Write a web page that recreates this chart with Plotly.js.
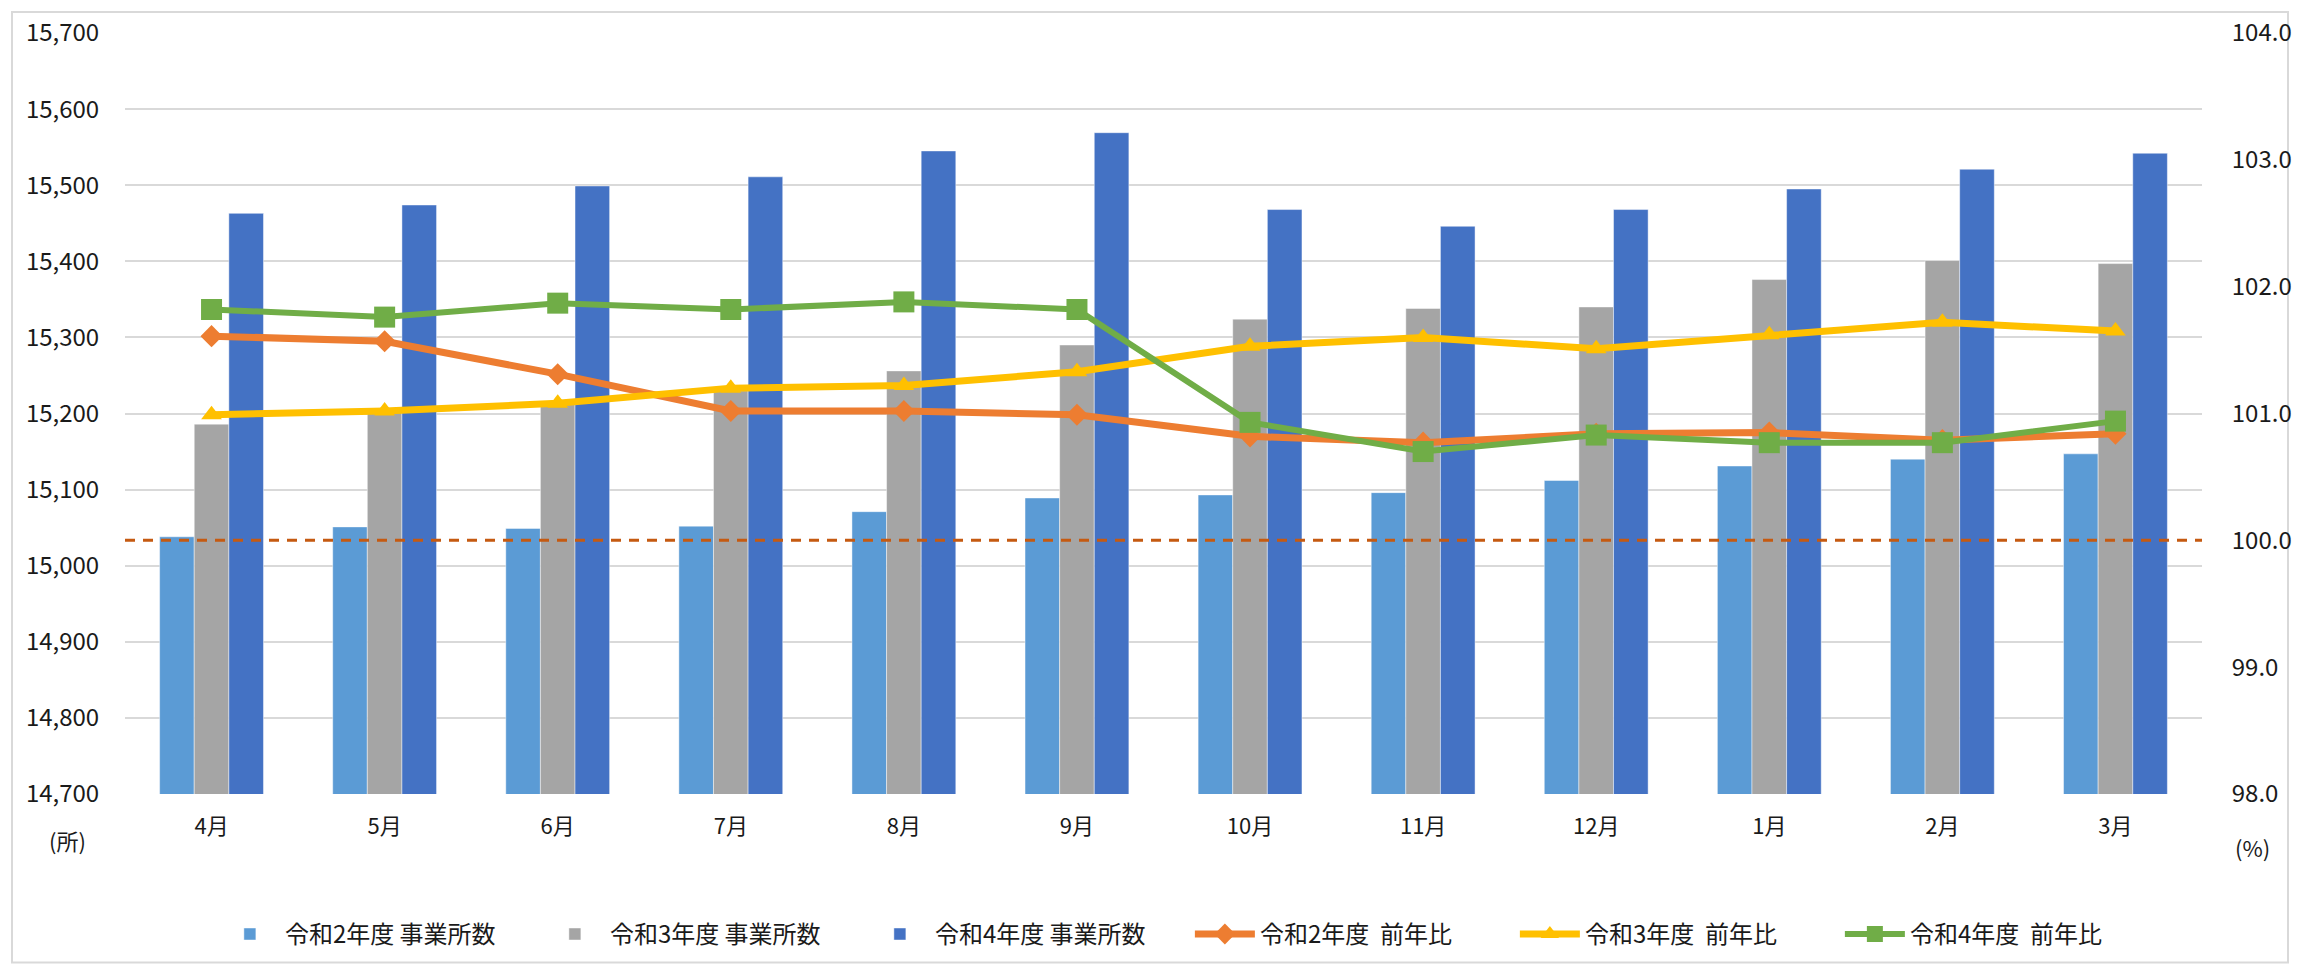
<!DOCTYPE html>
<html>
<head>
<meta charset="utf-8">
<script src="https://cdn.plot.ly/plotly-3.0.1.min.js"></script>
<style>
html,body{margin:0;padding:0;background:#fff;}
#chart{width:2300px;height:965px;}
</style>
</head>
<body>
<div id="chart"></div>
<script>
const months = ['4月','5月','6月','7月','8月','9月','10月','11月','12月','1月','2月','3月'];
const countR2 = [15038, 15051, 15049, 15052, 15071, 15089, 15093, 15096, 15112, 15131, 15140, 15147];
const countR3 = [15186, 15204, 15212, 15230, 15256, 15290, 15324, 15338, 15340, 15376, 15401, 15397];
const countR4 = [15463, 15474, 15499, 15511, 15545, 15569, 15468, 15446, 15468, 15495, 15521, 15542];
const ratioR2 = [101.61, 101.57, 101.31, 101.02, 101.02, 100.99, 100.82, 100.77, 100.84, 100.85, 100.79, 100.84];
const ratioR3 = [100.99, 101.02, 101.08, 101.20, 101.22, 101.33, 101.53, 101.60, 101.51, 101.62, 101.72, 101.65];
const ratioR4 = [101.82, 101.76, 101.87, 101.82, 101.88, 101.82, 100.93, 100.70, 100.83, 100.77, 100.77, 100.94];
const names = ['令和2年度 事業所数','令和3年度 事業所数','令和4年度 事業所数','令和2年度  前年比','令和3年度  前年比','令和4年度  前年比'];
const baseline = 100;

const FONT = '"Noto Sans CJK JP", "Noto Sans", sans-serif';
const TXT = '#1a1a1a';

const barLine = {color:'rgba(255,255,255,0.45)', width:1};
const traces = [
  {type:'bar', name:names[0], x:months, y:countR2, marker:{color:'#5B9BD5', line:barLine}},
  {type:'bar', name:names[1], x:months, y:countR3, marker:{color:'#A5A5A5', line:barLine}},
  {type:'bar', name:names[2], x:months, y:countR4, marker:{color:'#4472C4', line:barLine}},
  {type:'scatter', mode:'lines+markers', name:names[3], x:months, y:ratioR2, yaxis:'y2',
   line:{color:'#ED7D31', width:7}, marker:{symbol:'diamond', size:17, color:'#ED7D31'}},
  {type:'scatter', mode:'lines+markers', name:names[4], x:months, y:ratioR3, yaxis:'y2',
   line:{color:'#FFC000', width:7}, marker:{symbol:'triangle-up', size:18, color:'#FFC000'}},
  {type:'scatter', mode:'lines+markers', name:names[5], x:months, y:ratioR4, yaxis:'y2',
   line:{color:'#70AD47', width:6}, marker:{symbol:'square', size:21, color:'#70AD47'}}
];

const layout = {
  width:2300, height:965,
  margin:{l:125, r:98, t:33, b:170.5, pad:0, autoexpand:false},
  paper_bgcolor:'#fff', plot_bgcolor:'#fff',
  font:{family:FONT, color:TXT, size:23},
  barmode:'group', bargap:0.4, bargroupgap:0,
  showlegend:true,
  legend:{orientation:'h', x:0.5127, xanchor:'center', y:-0.1845, yanchor:'middle',
          font:{size:24, family:FONT, color:TXT}, traceorder:'normal',
          entrywidth:250, entrywidthmode:'pixels', itemwidth:60},
  xaxis:{type:'category', range:[-0.5, months.length - 0.5], autorange:false,
         showgrid:false, showline:false, zeroline:false,
         ticks:'outside', ticklen:13, tickcolor:'rgba(0,0,0,0)',
         tickfont:{size:22, family:FONT, color:TXT}, fixedrange:true},
  yaxis:{range:[14700,15700], dtick:100, tick0:14700, tickformat:',d',
         showgrid:true, gridcolor:'#D9D9D9', gridwidth:2, zeroline:false, showline:false,
         ticks:'outside', ticklen:20, tickcolor:'rgba(0,0,0,0)',
         tickfont:{size:24, family:FONT, color:TXT}},
  yaxis2:{range:[98,104], dtick:1, tick0:98, tickformat:'.1f', overlaying:'y', side:'right',
          showgrid:false, zeroline:false, showline:false,
          ticks:'outside', ticklen:24, tickcolor:'rgba(0,0,0,0)',
          tickfont:{size:24, family:FONT, color:TXT}},
  shapes:[
    {type:'rect', xref:'paper', yref:'paper', x0:-0.0544, x1:1.0414, y0:-0.2213, y1:1.0276,
     line:{color:'#D9D9D9', width:2}, fillcolor:'rgba(0,0,0,0)', layer:'below'},
    {type:'line', xref:'paper', yref:'y2', x0:0, x1:1, y0:baseline, y1:baseline,
     line:{color:'#C55A11', width:3, dash:'10px,8px'}, layer:'above'}
  ],
  annotations:[
    {text:'(所)', xref:'paper', yref:'paper', x:-0.0279, y:-0.0598, showarrow:false,
     xanchor:'center', yanchor:'middle', font:{size:22, family:FONT, color:TXT}},
    {text:'(%)', xref:'paper', yref:'paper', x:1.0241, y:-0.0703, showarrow:false,
     xanchor:'center', yanchor:'middle', font:{size:22, family:FONT, color:TXT}}
  ]
};

Plotly.newPlot('chart', traces, layout, {displayModeBar:false, staticPlot:true});
</script>
</body>
</html>
